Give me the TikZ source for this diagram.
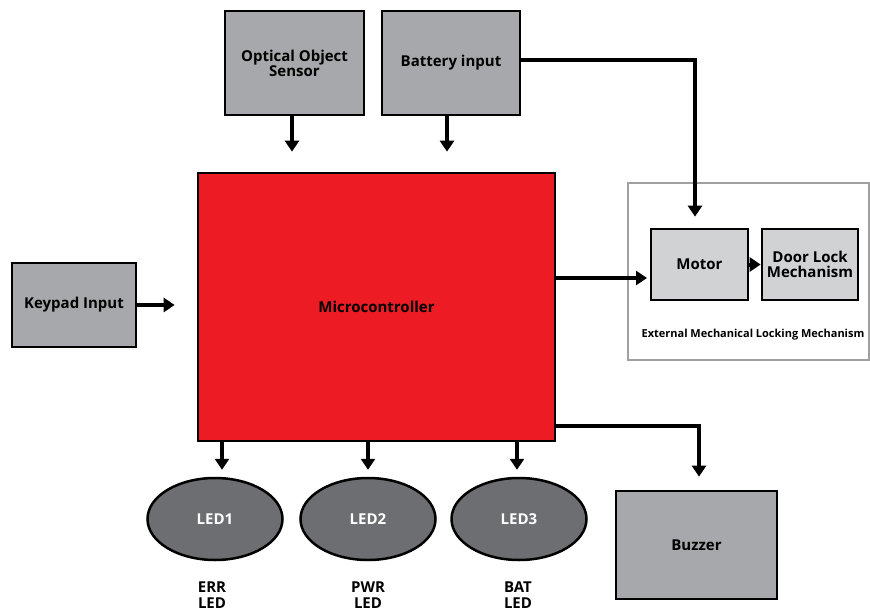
\documentclass[tikz,border=0pt]{standalone}
\usepackage{fontspec}
\setmainfont{Open Sans}
\usetikzlibrary{arrows.meta,shapes.geometric}

\definecolor{boxgray}{HTML}{A7A8AB}
\definecolor{lightgray}{HTML}{D1D2D4}
\definecolor{mcred}{HTML}{ED1C24}
\definecolor{ledgray}{HTML}{6D6E71}
\definecolor{framegray}{HTML}{A0A0A0}

\begin{document}
\begin{tikzpicture}[x=1pt,y=-1pt,
  txt/.style={font=\bfseries\fontsize{15}{15}\selectfont,align=center},
  blk/.style={txt,draw=black,line width=2.7pt,fill=boxgray,inner sep=0pt},
  led/.style={txt,ellipse,draw=black,line width=2.5pt,fill=ledgray,text=white,
    minimum width=135pt,minimum height=82pt,inner sep=0pt},
  tag/.style={txt,font=\bfseries\fontsize{15}{15.5}\selectfont,inner sep=0pt},
  arr/.style={line width=4pt,-{Triangle[width=14pt,length=11pt]}}]
  \useasboundingbox (0,0) rectangle (870,613);
  % Inputs
  \node[blk,minimum width=124pt,minimum height=84pt]  (KP) at (74,305)    {Keypad Input};
  \node[blk,minimum width=139pt,minimum height=104pt] (OS) at (294.5,63)  {Optical Object\\Sensor};
  \node[blk,minimum width=138pt,minimum height=104pt] (BI) at (451,63)    {Battery input};
  \node[blk,fill=mcred,minimum width=357pt,minimum height=268pt] (MC) at (376.5,307) {Microcontroller};
  % External mechanical part
  \node[draw=framegray,line width=1.8pt,minimum width=241pt,minimum height=177pt] (EX) at (748.5,271.5) {};
  \node[blk,fill=lightgray,minimum width=97pt,minimum height=71pt] (MO) at (699.5,264.5) {Motor};
  \node[blk,fill=lightgray,minimum width=96pt,minimum height=71pt] (DL) at (810,264.5)   {Door Lock\\Mechanism};
  \node[txt,font=\bfseries\fontsize{11}{13}\selectfont] (EXL) at (753,335) {External Mechanical Locking Mechanism};
  % Outputs
  \node[blk,minimum width=161pt,minimum height=108pt] (BZ) at (696.5,545) {Buzzer};
  \node[led] (L1) at (215,519) {LED1};
  \node[led] (L2) at (368,519) {LED2};
  \node[led] (L3) at (519,519) {LED3};
  \node[tag] (T1) at (212,595) {ERR\\LED};
  \node[tag] (T2) at (368,595) {PWR\\LED};
  \node[tag] (T3) at (518,595) {BAT\\LED};
  \coordinate (moin) at (647,278);
  % Connections
  \draw[arr,shorten >=22pt] (KP.east) -- (KP.east -| MC.west);
  \draw[arr,shorten >=20pt] ([xshift=-2.5pt]OS.south) -- ([xshift=-2.5pt]OS.south |- MC.north);
  \draw[arr,shorten >=20pt] ([xshift=-4pt]BI.south) -- ([xshift=-4pt]BI.south |- MC.north);
  \draw[arr,shorten >=11pt] ([yshift=3pt]BI.east) -| ([xshift=-4.5pt]MO.north);
  \draw[arr] (MC.east |- moin) -- (moin);
  \draw[arr] (MO.east) -- (DL.west);
  \draw[arr,shorten >=13pt] ([yshift=16pt]MC.south east) -| ([xshift=2.5pt]BZ.north);
  \draw[arr,shorten >=7pt] (MC.south -| 222,0) -- ([xshift=7pt]L1.north);
  \draw[arr,shorten >=7pt] (MC.south -| L2.north) -- (L2.north);
  \draw[arr,shorten >=7pt] (MC.south -| 517,0) -- ([xshift=-2pt]L3.north);
\end{tikzpicture}
\end{document}
